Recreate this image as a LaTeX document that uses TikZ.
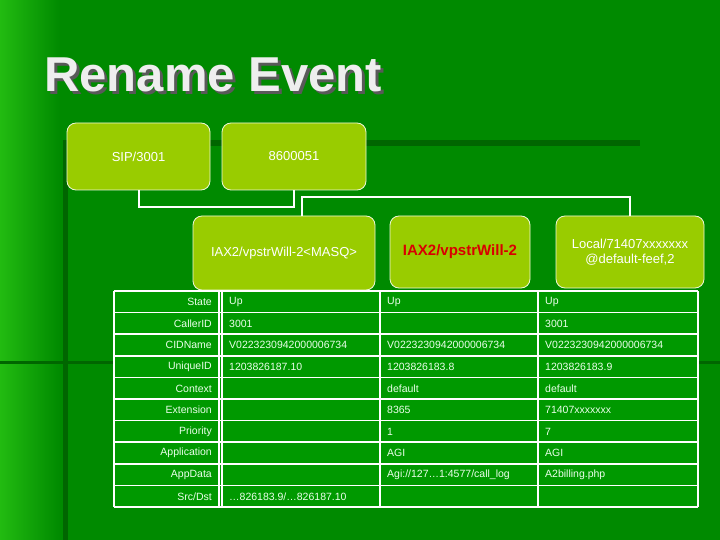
\documentclass[tikz,border=0pt]{standalone}
\usepackage{fontspec}
\setmainfont{Liberation Sans}
\newcommand\mysl{/}
\definecolor{bgg}{HTML}{008A00}
\definecolor{bgl}{HTML}{22BB11}
\definecolor{dk}{HTML}{006600}
\definecolor{boxg}{HTML}{99CC00}
\definecolor{tabg}{HTML}{009900}
\definecolor{ttl}{HTML}{EEEEEE}
\begin{document}
\begin{tikzpicture}[x=1pt,y=-1pt,
  box/.style={draw=white!85!boxg,line width=0.8pt,fill=boxg,rounded corners=9pt,text=white,font=\fontsize{13}{15}\selectfont,align=center,inner sep=0pt},
  conn/.style={draw=white,line width=2pt},
  cell/.style={font=\fontsize{10.5}{12}\selectfont,text=white!92!green,anchor=west,inner sep=0pt},
  lab/.style={font=\fontsize{10.5}{12}\selectfont,text=white!92!green,anchor=east,inner sep=0pt}]
\useasboundingbox (0,0) rectangle (720,540);
\fill[bgg] (0,0) rectangle (720,540);
\shade[left color=bgl,right color=bgg] (0,0) rectangle (60,540);
\fill[dk] (63,140) rectangle (68,540);
\fill[dk] (205,140) rectangle (640,146);
\fill[dk] (0,361) rectangle (720,364);
\node[font=\bfseries\fontsize{49}{52}\selectfont,text=black!65,anchor=west,inner sep=0pt] at (47,78) {Rename Event};
\node[font=\bfseries\fontsize{49}{52}\selectfont,text=ttl,anchor=west,inner sep=0pt] (title) at (44,75) {Rename Event};
\node[box,minimum width=143,minimum height=67] (sip) at (138.5,156.5) {SIP/3001};
\node[box,minimum width=144,minimum height=67] (num) at (294,156.5) {8600051};
\node[box,minimum width=182,minimum height=74] (iax1) at (284,253) {IAX2/vpstrWill-2<MASQ>};
\node[box,minimum width=140,minimum height=72,text=red!85!black,font=\bfseries\fontsize{15}{17}\selectfont] (iax2) at (460,252) {IAX2/vpstrWill-2};
\node[box,minimum width=148,minimum height=72] (loc) at (630,252) {Local/71407xxxxxxx\\@default-feef,2};
\draw[conn] (sip.south) -- ++(0,17) -| (num.south);
\coordinate (j) at (302,197);
\draw[conn] (iax1.north -| j) -- (j) -| (loc.north);
% table
\fill[tabg] (114,291) rectangle (698,508);
\foreach \i in {0,...,10} \draw[white,line width=1.5pt] (114,{291+21.6*\i}) -- (698,{291+21.6*\i});
\foreach \xx in {114,219,380,538,698} \draw[white,line width=1.5pt] (\xx,291) -- (\xx,507);
\draw[white,line width=1.5pt] (222,291) -- (222,507);
\foreach \l [count=\i from 0] in {State,CallerID,CIDName,UniqueID,Context,Extension,Priority,Application,AppData,Src\mysl Dst}
  \node[lab] at (212,{302+21.6*\i}) {\l};
\foreach \r/\a/\b/\c in {0/Up/Up/Up,1/3001//3001,2/V0223230942000006734/V0223230942000006734/V0223230942000006734,3/1203826187.10/1203826183.8/1203826183.9,4//default/default,5//8365/71407xxxxxxx,6//1/7,7//AGI/AGI,8//Agi:\mysl\mysl 127…1:4577\mysl call\_log/A2billing.php,9/…826183.9\mysl …826187.10//}{
  \node[cell] at (229,{302+21.6*\r}) {\a};
  \node[cell] at (387,{302+21.6*\r}) {\b};
  \node[cell] at (545,{302+21.6*\r}) {\c};
}
\end{tikzpicture}
\end{document}
